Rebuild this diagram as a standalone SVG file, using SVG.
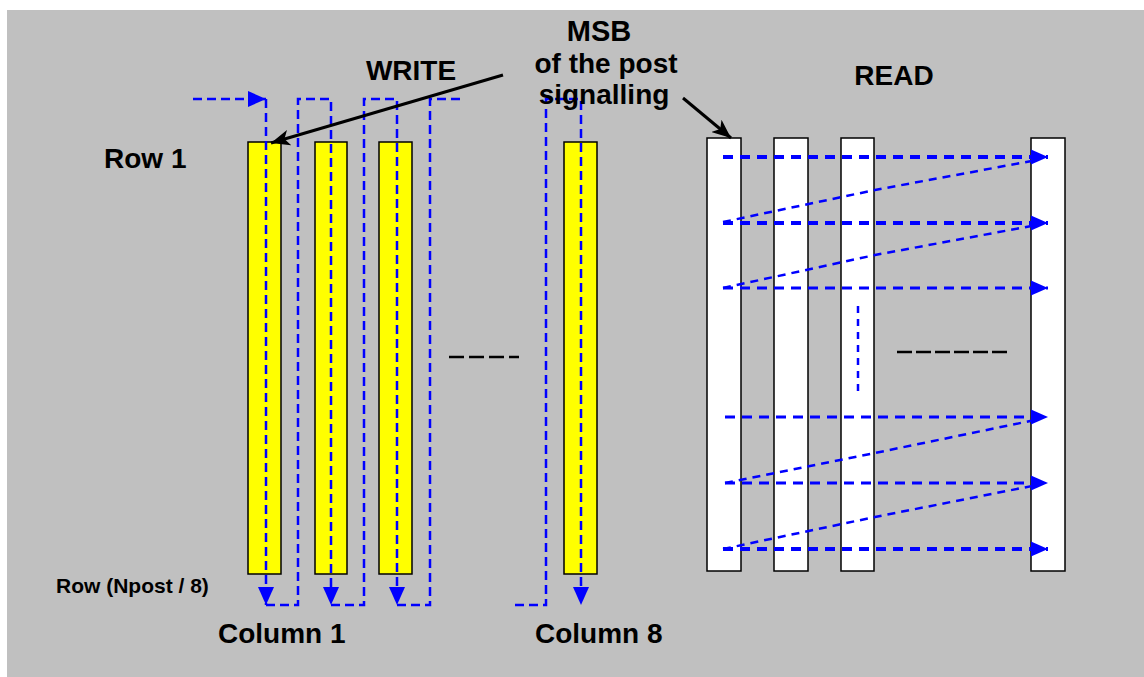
<svg xmlns="http://www.w3.org/2000/svg" width="1144" height="677" viewBox="0 0 1144 677">
<style>
.t{font-family:"Liberation Sans",Arial,sans-serif;font-weight:bold;fill:#000}
.col{fill:#FFFF00;stroke:#000;stroke-width:1.5}
.wcol{fill:#FFF;stroke:#000;stroke-width:1.5}
.w{fill:none;stroke:#0000FF;stroke-width:2.5;stroke-dasharray:9 5}
.h{fill:none;stroke:#0000FF;stroke-width:4;stroke-dasharray:10 7}
.d{fill:none;stroke:#0000FF;stroke-width:2.5;stroke-dasharray:8 6}
.blk{fill:none;stroke:#000;stroke-width:3}
</style>
<defs>
<marker id="ab" markerUnits="userSpaceOnUse" markerWidth="20" markerHeight="18" viewBox="0 0 20 18" refX="18" refY="9" orient="auto"><path d="M0,1 L18,9 L0,17 Z" fill="#0000FF"/></marker>
<marker id="ar" markerUnits="userSpaceOnUse" markerWidth="20" markerHeight="18" viewBox="0 0 20 18" refX="17" refY="9" orient="auto"><path d="M0,1.5 L17,9 L0,16.5 Z" fill="#0000FF"/></marker>
<marker id="ak" markerUnits="userSpaceOnUse" markerWidth="20" markerHeight="16" viewBox="0 0 20 16" refX="19" refY="8" orient="auto"><path d="M0,0 L19,8 L0,16 L5,8 Z" fill="#000"/></marker>
</defs>
<rect x="7" y="10" width="1137" height="667" fill="#C0C0C0"/>

<g id="write-columns">
<rect id="col1" class="col" x="248" y="142" width="33" height="432"/>
<rect id="col2" class="col" x="315" y="142" width="32" height="432"/>
<rect id="col3" class="col" x="379" y="142" width="33" height="432"/>
<rect id="col8" class="col" x="564" y="142" width="33" height="432"/>
</g>

<g id="read-columns">
<rect id="r1" class="wcol" x="707" y="138" width="34" height="433"/>
<rect id="r2" class="wcol" x="774" y="138" width="34" height="433"/>
<rect id="r3" class="wcol" x="841" y="138" width="33" height="433"/>
<rect id="r4" class="wcol" x="1031" y="138" width="34" height="433"/>
</g>

<g id="connectors">
<path class="w" d="M193,99 H266" marker-end="url(#ab)"/>
<path class="w" d="M266,99 V605" marker-end="url(#ab)"/>
<path class="w" d="M266,605 H298 V99 H331 V605" marker-end="url(#ab)"/>
<path class="w" d="M331,605 H364 V99 H397 V605" marker-end="url(#ab)"/>
<path class="w" d="M397,605 H430 V99 H462"/>
<path class="w" d="M515,605 H546 V99 H581 V605" marker-end="url(#ab)"/>

<path class="h" d="M723,157 H1048" marker-end="url(#ar)"/>
<path class="h" d="M723,223 H1048" marker-end="url(#ar)"/>
<path class="h" style="stroke-width:3" d="M723,288 H1048" marker-end="url(#ar)"/>
<path class="h" style="stroke-width:3" d="M725,417 H1048" marker-end="url(#ar)"/>
<path class="h" style="stroke-width:3" d="M725,483 H1048" marker-end="url(#ar)"/>
<path class="h" d="M723,549 H1048" marker-end="url(#ar)"/>

<path class="d" d="M723,222 L875,190 L1037,160"/>
<path class="d" d="M723,288 L875,255 L1037,225"/>
<path class="d" d="M725,483 L875,453 L1035,420"/>
<path class="d" d="M723,549 L875,517 L1037,485"/>

<path fill="none" stroke="#0000FF" stroke-width="2.5" stroke-dasharray="7 6" d="M858,306 V395"/>

<path class="blk" d="M503,75 L271,143" marker-end="url(#ak)"/>
<path class="blk" stroke-width="2.5" d="M683,98 L731,138" marker-end="url(#ak)"/>

<path fill="none" stroke="#000" stroke-width="2.5" stroke-dasharray="15 5" d="M449,357 H519"/>
<path fill="none" stroke="#000" stroke-width="2.5" stroke-dasharray="15 4" d="M897,352 H1009"/>
</g>

<g id="labels">
<text class="t" x="599" y="41" font-size="29" text-anchor="middle">MSB</text>
<text class="t" x="606" y="73" font-size="28" text-anchor="middle">of the post</text>
<text class="t" x="604" y="104" font-size="28" text-anchor="middle">signalling</text>
<text class="t" x="411" y="80" font-size="28" text-anchor="middle">WRITE</text>
<text class="t" x="894" y="85" font-size="28" text-anchor="middle">READ</text>
<text class="t" x="104" y="168" font-size="28">Row 1</text>
<text class="t" x="56" y="593" font-size="21">Row (Npost / 8)</text>
<text class="t" x="218" y="643" font-size="28">Column 1</text>
<text class="t" x="535" y="643" font-size="28">Column 8</text>
</g>
</svg>
